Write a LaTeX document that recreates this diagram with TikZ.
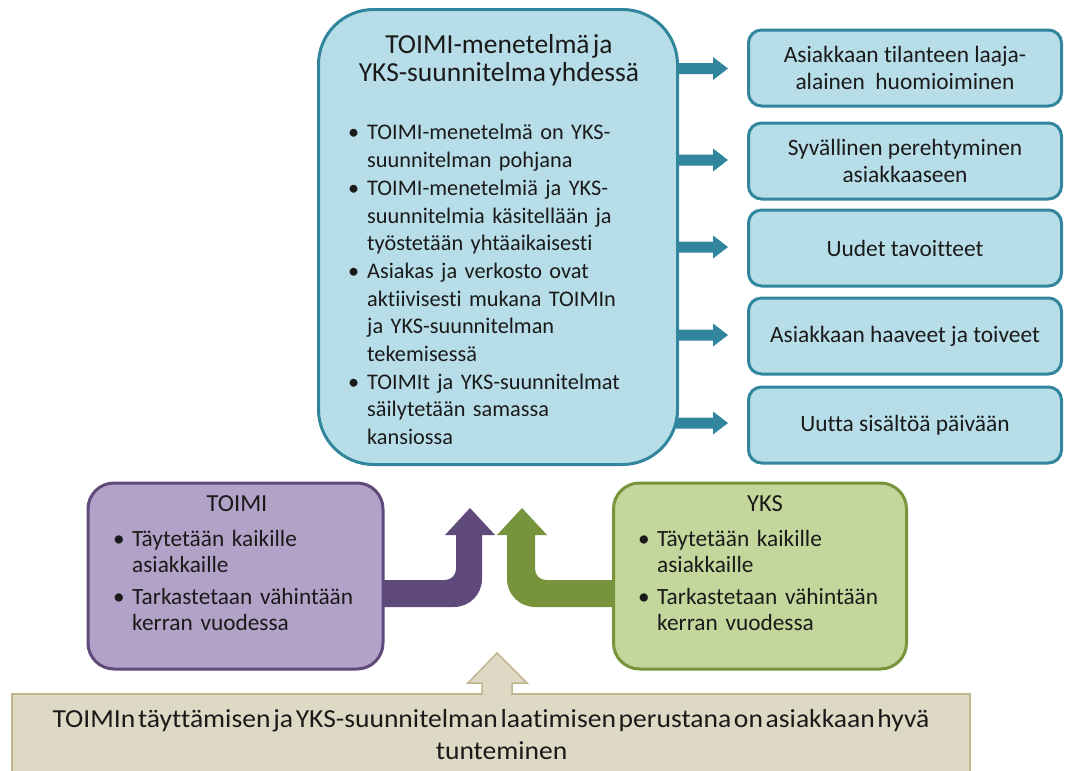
\documentclass[tikz,border=0pt]{standalone}
\usepackage{fontspec}
\setmainfont{Carlito}[Ligatures=NoCommon]
\usetikzlibrary{positioning}

\definecolor{tealline}{HTML}{31859C}
\definecolor{tealfill}{HTML}{B7DEE8}
\definecolor{purpline}{HTML}{604A7B}
\definecolor{purpfill}{HTML}{B3A2C7}
\definecolor{greenline}{HTML}{77933C}
\definecolor{greenfill}{HTML}{C3D69B}
\definecolor{beigeline}{HTML}{BFB68E}
\definecolor{beigefill}{HTML}{DDD9C4}
\definecolor{ink}{HTML}{1A1A1A}

% bullet paragraph with hanging indent
\newcommand\bitem[1]{\par\noindent\hangindent=21pt\hangafter=1\makebox[21pt][l]{\hspace{2pt}\textbullet}#1\par}
% narrow word spacing for headings
\newcommand\tightwords{\spaceskip=0.12em\relax}

\tikzset{
  bigbox/.style={draw=tealline, fill=tealfill, line width=3pt, rounded corners=55pt},
  sidebox/.style={draw=tealline, fill=tealfill, line width=3pt, rounded corners=13pt,
    minimum width=313pt, minimum height=76pt, align=center, text=ink,
    font=\fontsize{23.4}{27}\selectfont},
  toimibox/.style={draw=purpline, fill=purpfill, line width=3pt, rounded corners=26pt},
  yksbox/.style={draw=greenline, fill=greenfill, line width=3pt, rounded corners=26pt},
  basebox/.style={draw=beigeline, fill=beigefill, line width=1.5pt},
  txt/.style={inner sep=0pt, anchor=north west, text=ink},
  smalllist/.style={txt, text width=270pt, font=\fontsize{23.3}{25.5}\selectfont},
  smalltitle/.style={inner sep=0pt, text=ink, font=\fontsize{24.5}{28}\selectfont},
}

\begin{document}
\begin{tikzpicture}[x=1pt, y=-1pt]
\useasboundingbox (0,0) rectangle (1066,771);

% ---------- teal arrows towards the outcome boxes ----------
\foreach \yy [count=\i] in {68.5,160,247,335,423}{
  \coordinate (as\i) at (676,\yy);
  \fill[tealline] (as\i) ++(0,-5.5) -- ++(37,0) -- ++(0,-6) -- ++(15,11.5)
        -- ++(-15,11.5) -- ++(0,-6) -- ++(-37,0) -- cycle;
}

% ---------- central box ----------
\node[bigbox, minimum width=359pt, minimum height=455pt] (core) at (498,237) {};
\node[inner sep=0pt, align=center, text=ink,
      font=\fontsize{27.5}{28.5}\selectfont\tightwords]
  (coretitle) at (499,60) {TOIMI-menetelmä ja\\YKS-suunnitelma yhdessä};
\node[txt, text width=310pt, font=\fontsize{22.3}{27.7}\selectfont] (corelist) at (346,112) {%
  \bitem{TOIMI-menetelmä on YKS-\newline suunnitelman pohjana}
  \bitem{TOIMI-menetelmiä ja YKS-\newline suunnitelmia käsitellään ja\newline työstetään yhtäaikaisesti}
  \bitem{Asiakas ja verkosto ovat\newline aktiivisesti mukana TOIMIn\newline ja YKS-suunnitelman\newline tekemisessä}
  \bitem{TOIMIt ja YKS-suunnitelmat\newline säilytetään samassa\newline kansiossa}};

% ---------- outcome boxes ----------
\node[sidebox] (o1) at (905,68) {Asiakkaan tilanteen laaja-\\alainen\ \ huomioiminen};
\node[sidebox] (o2) at (905,161) {Syvällinen perehtyminen\\asiakkaaseen};
\node[sidebox] (o3) at (905,248) {Uudet tavoitteet};
\node[sidebox] (o4) at (905,336) {Asiakkaan haaveet ja toiveet};
\node[sidebox] (o5) at (905,425) {Uutta sisältöä päivään};

% ---------- bent arrows joining at the centre ----------
\fill[purpline] (370,580) [rounded corners=11pt] -- (456,580) [sharp corners] -- (456,535)
  -- (445,535) -- (470,508) -- (495,535) -- (482,535)
  [rounded corners=28pt] -- (482,607) [sharp corners] -- (370,607) -- cycle;
\fill[greenline] (625,580) [rounded corners=11pt] -- (535,580) [sharp corners] -- (535,535)
  -- (547,535) -- (522,508) -- (497,535) -- (507,535)
  [rounded corners=28pt] -- (507,607) [sharp corners] -- (625,607) -- cycle;

% ---------- TOIMI and YKS boxes ----------
\node[toimibox, minimum width=295pt, minimum height=186pt] (toimi) at (235.5,576) {};
\node[smalltitle] (toimit) at (237,504) {TOIMI};
\node[smalllist] (toimil) at (111,521) {%
  \bitem{Täytetään kaikille\newline asiakkaille}\vspace{7pt}
  \bitem{Tarkastetaan vähintään\newline kerran vuodessa}};

\node[yksbox, minimum width=293pt, minimum height=186pt] (yks) at (760,576) {};
\node[smalltitle] (ykst) at (765,504) {YKS};
\node[smalllist] (yksl) at (636,521) {%
  \bitem{Täytetään kaikille\newline asiakkaille}\vspace{7pt}
  \bitem{Tarkastetaan vähintään\newline kerran vuodessa}};

% ---------- base box with upward arrow ----------
\filldraw[basebox] (482,694) -- (482,683) -- (468,683) -- (497,653) -- (527,683)
  -- (512,683) -- (512,694);
\node[basebox, minimum width=958pt, minimum height=100pt, anchor=north west] (base) at (11,693) {};
\fill[beigefill] (483,690) rectangle (511,696);
\node[inner sep=0pt, align=center, text=ink] (basetext) at (491,737)
  {\scalebox{1.06}[1]{\fontsize{26}{31}\selectfont\spaceskip=0.1em\relax
   \begin{tabular}{@{}c@{}}TOIMIn täyttämisen ja YKS-suunnitelman laatimisen perustana on asiakkaan hyvä\\[1pt]
   \hspace*{20pt}tunteminen\end{tabular}}};
\end{tikzpicture}
\end{document}
